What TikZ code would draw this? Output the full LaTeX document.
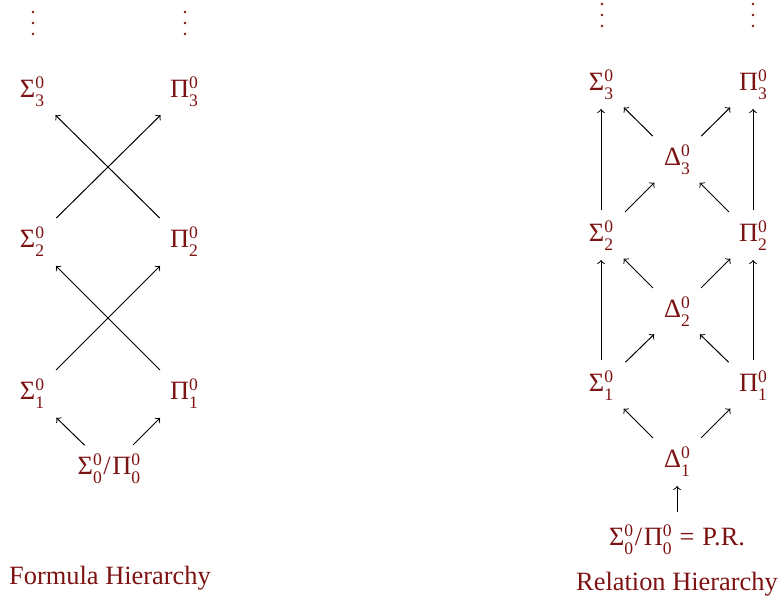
\documentclass[tikz,border=0pt]{standalone}
\usepackage{fontspec}
\setmainfont{Liberation Serif}
\usetikzlibrary{calc}
\definecolor{hred}{RGB}{125,18,18}
\newcommand{\scr}{\fontsize{8.8}{9}\selectfont}
\newcommand{\hs}[3]{#1\rlap{\raisebox{4.2pt}{\scr #2}}\raisebox{-4.8pt}{\scr #3}}
\newcommand{\slsh}{\kern0.8pt/\kern0.8pt}
\newcommand{\conn}[4]{\draw[arr] ($(#1)!#3!(#2)$) -- ($(#2)!#4!(#1)$);}
\newcommand{\vdts}[1]{\foreach \dy in {-11,0,11} {\fill[hred] ($(#1)+(0,\dy)$) circle[radius=0.65pt];}}
\begin{document}
\begin{tikzpicture}[x=0.5pt,y=-0.5pt,
  lbl/.style={text=hred,inner sep=0pt,font=\fontsize{13.2}{15}\selectfont},
  arr/.style={->,line width=0.5pt,black}]
\useasboundingbox (0,0) rectangle (779,600);
% left: formula hierarchy
\coordinate (lv1) at (33,23);
\coordinate (lv2) at (185,23);
\vdts{lv1}
\vdts{lv2}
\node[lbl] (ls3) at (32,92) {\hs{Σ}{0}{3}};
\node[lbl] (lp3) at (184,92) {\hs{Π}{0}{3}};
\node[lbl] (ls2) at (32,242) {\hs{Σ}{0}{2}};
\node[lbl] (lp2) at (184,242) {\hs{Π}{0}{2}};
\node[lbl] (ls1) at (32,394) {\hs{Σ}{0}{1}};
\node[lbl] (lp1) at (184,394) {\hs{Π}{0}{1}};
\node[lbl] (l0) at (109,469) {\hs{Σ}{0}{0}\slsh\hs{Π}{0}{0}};
\node[lbl] (lt) at (110,578) {Formula Hierarchy};
\conn{l0}{ls1}{17pt}{17pt}
\conn{l0}{lp1}{17pt}{17pt}
\conn{ls1}{lp2}{17pt}{17pt}
\conn{lp1}{ls2}{17pt}{17pt}
\conn{ls2}{lp3}{17pt}{16.5pt}
\conn{lp2}{ls3}{17pt}{16.5pt}
% right: relation hierarchy
\coordinate (rv1) at (602,15);
\coordinate (rv2) at (753,15);
\vdts{rv1}
\vdts{rv2}
\node[lbl] (rs3) at (601,85) {\hs{Σ}{0}{3}};
\node[lbl] (rp3) at (753,85) {\hs{Π}{0}{3}};
\node[lbl] (rd3) at (677,160) {\hs{Δ}{0}{3}};
\node[lbl] (rs2) at (601,236) {\hs{Σ}{0}{2}};
\node[lbl] (rp2) at (753,236) {\hs{Π}{0}{2}};
\node[lbl] (rd2) at (677,312) {\hs{Δ}{0}{2}};
\node[lbl] (rs1) at (601,386) {\hs{Σ}{0}{1}};
\node[lbl] (rp1) at (753,386) {\hs{Π}{0}{1}};
\node[lbl] (rd1) at (677,462) {\hs{Δ}{0}{1}};
\node[lbl] (r0) at (677,540) {\hs{Σ}{0}{0}\slsh\hs{Π}{0}{0}\hspace{0.3em}=\hspace{0.3em}P.R.};
\node[lbl] (rt) at (677,584) {Relation Hierarchy};
\conn{rs1}{rs2}{13pt}{12pt}
\conn{rs2}{rs3}{13pt}{12pt}
\conn{rp1}{rp2}{13pt}{12pt}
\conn{rp2}{rp3}{13pt}{12pt}
\conn{r0}{rd1}{14pt}{12pt}
\conn{rd1}{rs1}{17pt}{16pt}
\conn{rd1}{rp1}{17pt}{16pt}
\conn{rs1}{rd2}{17pt}{16pt}
\conn{rp1}{rd2}{17pt}{16pt}
\conn{rd2}{rs2}{17pt}{16pt}
\conn{rd2}{rp2}{17pt}{16pt}
\conn{rs2}{rd3}{17pt}{16pt}
\conn{rp2}{rd3}{17pt}{16pt}
\conn{rd3}{rs3}{17pt}{16pt}
\conn{rd3}{rp3}{17pt}{16pt}
\end{tikzpicture}
\end{document}
